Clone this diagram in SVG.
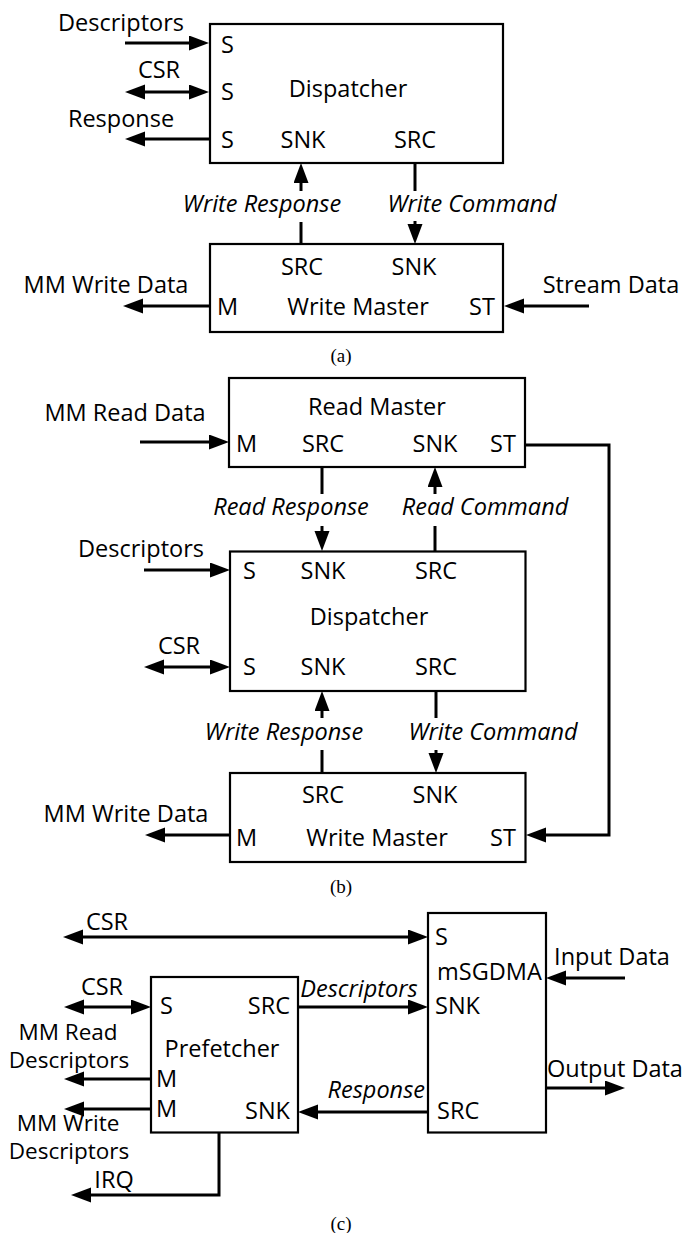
<svg xmlns="http://www.w3.org/2000/svg" width="683" height="1233" viewBox="0 0 683 1233">
<style>
text{font-family:"Open Sans","Noto Sans",sans-serif;font-size:23.5px;fill:#000}
.it{font-style:italic;font-size:23.5px}
.c{text-anchor:middle}
.e{text-anchor:end}
.sm{font-size:22.5px}
.cap{font-family:"Liberation Serif",serif;font-size:19px}
rect{fill:#fff;stroke:#000;stroke-width:2.2}
.w line,.w polyline{stroke:#000;stroke-width:3;fill:none}
.a{marker-end:url(#ah)}
.d{marker-end:url(#ah);marker-start:url(#ah)}
</style>
<defs>
<marker id="ah" markerUnits="userSpaceOnUse" markerWidth="22" markerHeight="17" refX="12" refY="7.5" orient="auto-start-reverse"><path d="M0,0 L20,7.5 L0,15 z" fill="#000"/></marker>
</defs>

<!-- (a) -->
<g id="a-dispatcher">
<rect x="210" y="24" width="293" height="139"/>
<text x="221" y="53">S</text><text x="221" y="100">S</text><text x="221" y="148">S</text>
<text x="348" y="97" class="c">Dispatcher</text>
<text x="303" y="148" class="c">SNK</text><text x="415" y="148" class="c">SRC</text>
</g>
<g id="a-writemaster">
<rect x="210" y="244" width="293" height="88"/>
<text x="302" y="275" class="c">SRC</text><text x="414" y="275" class="c">SNK</text>
<text x="217" y="315">M</text><text x="358" y="315" class="c">Write Master</text><text x="482" y="315" class="c">ST</text>
</g>
<g id="a-labels">
<text x="121" y="31" class="c">Descriptors</text>
<text x="159" y="78" class="c">CSR</text>
<text x="121" y="127" class="c">Response</text>
<text x="262" y="212" class="c it">Write Response</text>
<text x="472" y="212" class="c it">Write Command</text>
<text x="106" y="293" class="c">MM Write Data</text>
<text x="611" y="293" class="c">Stream Data</text>
<text x="341" y="362" class="c cap">(a)</text>
</g>

<!-- (b) -->
<g id="b-readmaster">
<rect x="229" y="378" width="296" height="89"/>
<text x="377" y="415" class="c">Read Master</text>
<text x="236" y="452">M</text><text x="323" y="452" class="c">SRC</text><text x="435" y="452" class="c">SNK</text><text x="503" y="452" class="c">ST</text>
</g>
<g id="b-dispatcher">
<rect x="230" y="551.5" width="295.5" height="139.5"/>
<text x="243" y="579">S</text><text x="323" y="579" class="c">SNK</text><text x="436" y="579" class="c">SRC</text>
<text x="369" y="625" class="c">Dispatcher</text>
<text x="243" y="675">S</text><text x="323" y="675" class="c">SNK</text><text x="436" y="675" class="c">SRC</text>
</g>
<g id="b-writemaster">
<rect x="230" y="773" width="295.5" height="89"/>
<text x="323" y="803" class="c">SRC</text><text x="435" y="803" class="c">SNK</text>
<text x="236" y="846">M</text><text x="377" y="846" class="c">Write Master</text><text x="503" y="846" class="c">ST</text>
</g>
<g id="b-labels">
<text x="125" y="421" class="c">MM Read Data</text>
<text x="291" y="515" class="c it">Read Response</text>
<text x="485" y="515" class="c it">Read Command</text>
<text x="141" y="557" class="c">Descriptors</text>
<text x="179" y="654" class="c">CSR</text>
<text x="284" y="740" class="c it">Write Response</text>
<text x="493" y="740" class="c it">Write Command</text>
<text x="126" y="822" class="c">MM Write Data</text>
<text x="341" y="893" class="c cap">(b)</text>
</g>

<!-- (c) -->
<g id="c-msgdma">
<rect x="428" y="913" width="118" height="219.5"/>
<text x="435" y="945">S</text>
<text x="437" y="980">mSGDMA</text>
<text x="435" y="1014">SNK</text>
<text x="437" y="1119">SRC</text>
</g>
<g id="c-prefetcher">
<rect x="151" y="977" width="147" height="155.5"/>
<text x="160" y="1014">S</text><text x="290" y="1014" class="e">SRC</text>
<text x="222" y="1057" class="c">Prefetcher</text>
<text x="156" y="1087">M</text><text x="156" y="1117">M</text>
<text x="290" y="1119" class="e">SNK</text>
</g>
<g id="c-labels">
<text x="107" y="930" class="c">CSR</text>
<text x="612" y="965" class="c">Input Data</text>
<text x="102" y="995" class="c">CSR</text>
<text x="359" y="997" class="c it">Descriptors</text>
<text class="c sm"><tspan x="68" y="1040">MM Read</tspan><tspan x="69" y="1068">Descriptors</tspan></text>
<text x="615" y="1077" class="c">Output Data</text>
<text x="425" y="1098" class="e it">Response</text>
<text class="c sm"><tspan x="68" y="1131">MM Write</tspan><tspan x="69" y="1159">Descriptors</tspan></text>
<text x="114" y="1188" class="c">IRQ</text>
<text x="341" y="1230" class="c cap">(c)</text>
</g>

<g id="connectors" class="w">
<!-- (a) -->
<line class="a" x1="125" y1="43" x2="201" y2="43"/>
<line class="d" x1="133" y1="92" x2="201" y2="92"/>
<line class="a" x1="210" y1="139" x2="133" y2="139"/>
<line class="a" x1="301" y1="191" x2="301" y2="171"/>
<line x1="301" y1="222" x2="301" y2="244"/>
<line x1="415" y1="163" x2="415" y2="191"/>
<line class="a" x1="415" y1="221" x2="415" y2="236"/>
<line class="a" x1="210" y1="306" x2="131" y2="306"/>
<line class="a" x1="589" y1="306" x2="512" y2="306"/>
<!-- (b) -->
<line class="a" x1="140" y1="442" x2="221" y2="442"/>
<polyline class="a" points="525,445 609,445 609,835 534,835"/>
<line x1="322" y1="467" x2="322" y2="494"/>
<line class="a" x1="322" y1="526" x2="322" y2="543"/>
<line class="a" x1="435" y1="494" x2="435" y2="475"/>
<line x1="435" y1="526" x2="435" y2="551.5"/>
<line class="a" x1="144" y1="570" x2="222" y2="570"/>
<line class="d" x1="152" y1="667" x2="222" y2="667"/>
<line class="a" x1="322" y1="718" x2="322" y2="699"/>
<line x1="322" y1="750" x2="322" y2="773"/>
<line x1="436" y1="691" x2="436" y2="718"/>
<line class="a" x1="436" y1="750" x2="436" y2="765"/>
<line class="a" x1="230" y1="835" x2="153" y2="835"/>
<!-- (c) -->
<line class="d" x1="71" y1="937" x2="420" y2="937"/>
<line class="a" x1="625" y1="978" x2="554" y2="978"/>
<line class="d" x1="72" y1="1007" x2="143" y2="1007"/>
<line class="a" x1="298" y1="1007" x2="420" y2="1007"/>
<line class="a" x1="151" y1="1079" x2="72" y2="1079"/>
<line class="a" x1="151" y1="1109" x2="72" y2="1109"/>
<line class="a" x1="428" y1="1112" x2="306" y2="1112"/>
<line class="a" x1="546" y1="1088" x2="617" y2="1088"/>
<polyline class="a" points="219,1132.5 219,1195 79,1195"/>
</g>
</svg>
